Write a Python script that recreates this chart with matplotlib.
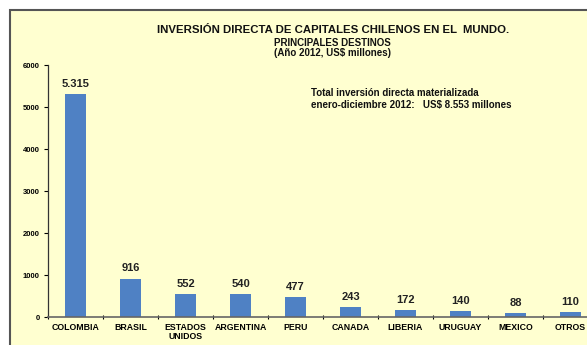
import matplotlib.pyplot as plt
from matplotlib.patches import Rectangle
import numpy as np

plt.rcParams['font.family'] = ['Liberation Sans', 'DejaVu Sans']

paises = ["COLOMBIA", "BRASIL", "ESTADOS\nUNIDOS", "ARGENTINA", "PERU",
          "CANADA", "LIBERIA", "URUGUAY", "MEXICO", "OTROS"]
montos = [5315, 916, 552, 540, 477, 243, 172, 140, 88, 110]
etiquetas = ["5.315", "916", "552", "540", "477", "243", "172", "140", "88", "110"]

W, H = 587, 345
fig = plt.figure(figsize=(W / 100, H / 100), dpi=100)
fig.patch.set_facecolor("white")

# marco amarillo
fig.patches.append(Rectangle((10 / W, -0.1), 1, 1.1 - 10 / H, transform=fig.transFigure,
                             facecolor="#FFFFD0", edgecolor="#555555", linewidth=1.5,
                             zorder=-5))

ax = fig.add_axes([48 / W, 1 - 317 / H, 550 / W, (317 - 65) / H])
ax.set_facecolor("none")
ax.set_zorder(5)

x = np.arange(len(paises))
ax.bar(x, montos, width=0.38, color="#4F81C4", zorder=2)
for xi, v, t in zip(x, montos, etiquetas):
    ax.text(xi, v + 120, t, ha="center", va="bottom", fontsize=8, fontweight="bold",
            color="#222222")

ax.set_xlim(-0.5, len(paises) - 0.5)
ax.set_ylim(0, 6000)
ax.set_yticks(range(0, 6001, 1000))
ax.tick_params(axis="y", labelsize=5.5, length=3, width=0.8, pad=3)
for lab in ax.get_yticklabels():
    lab.set_fontweight("bold")

ax.set_xticks(x)
ax.set_xticklabels(paises, fontsize=6.3, fontweight="bold", linespacing=1.0)
ax.tick_params(axis="x", length=0, pad=4)
ax.set_xticks(np.arange(-0.5, len(paises)), minor=True)
ax.tick_params(axis="x", which="minor", length=3, width=0.8, direction="inout")

for s in ["top", "right"]:
    ax.spines[s].set_visible(False)
ax.spines["left"].set_color("#333333")
ax.spines["bottom"].set_color("#666666")
ax.spines["left"].set_linewidth(0.9)
ax.spines["bottom"].set_linewidth(1.2)

fig.text(333 / W, 1 - 30 / H, "INVERSIÓN DIRECTA DE CAPITALES CHILENOS EN EL  MUNDO.",
         ha="center", va="center", fontsize=8.2, fontweight="bold", color="#111111")
fig.text(332 / W, 1 - 43 / H, "PRINCIPALES DESTINOS", ha="center", va="center",
         fontsize=7, fontweight="bold", color="#111111")
fig.text(332 / W, 1 - 53 / H, "(Año 2012, US$ millones)", ha="center", va="center",
         fontsize=7, fontweight="bold", color="#111111")

fig.text(311 / W, 1 - 99 / H, "Total inversión directa materializada\nenero-diciembre 2012:   US$ 8.553 millones",
         ha="left", va="center", fontsize=7, fontweight="bold", color="#111111",
         linespacing=1.15)

fig.savefig("out.png", dpi=100)
